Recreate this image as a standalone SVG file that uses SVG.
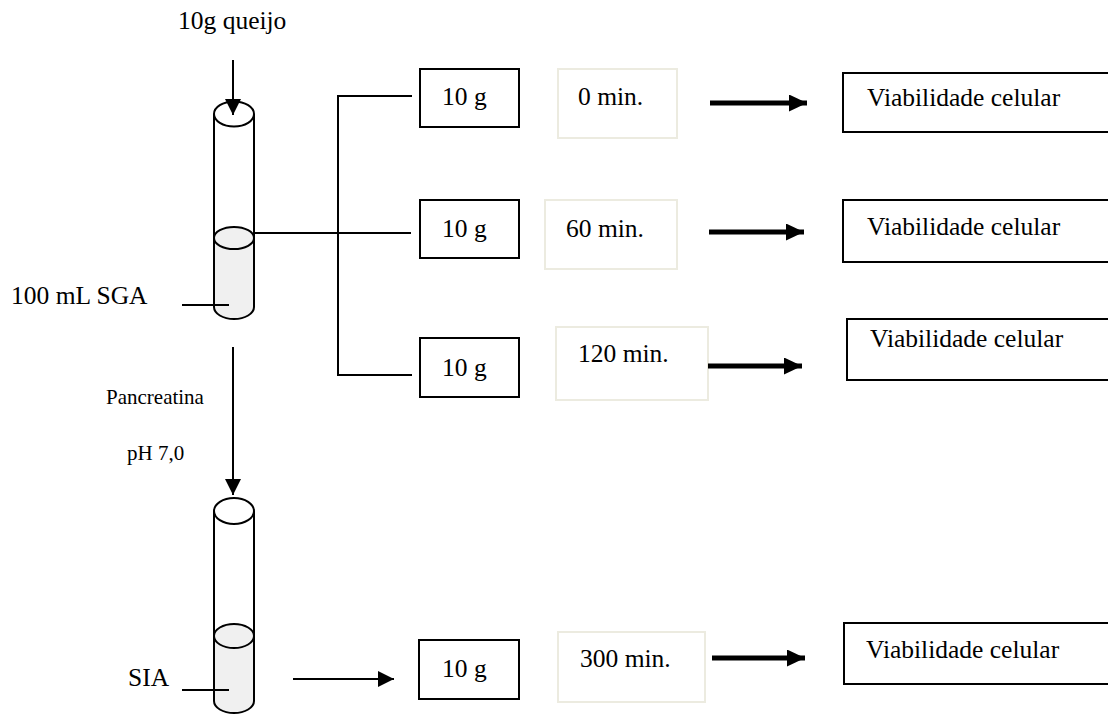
<svg xmlns="http://www.w3.org/2000/svg" width="1108" height="715" viewBox="0 0 1108 715">
  <style>
    text { font-family: "Liberation Serif", "Times New Roman", serif; fill: #000; }
    .lbl { font-size: 25.5px; }
    .small { font-size: 21px; }
    .box { fill: #fff; stroke: #000; stroke-width: 2; }
    .tbox { fill: #fff; stroke: #ecebe0; stroke-width: 2; }
    .ln { fill: none; stroke: #000; stroke-width: 2; }
    .glass { fill: none; stroke: #000; stroke-width: 2; }
    .liquid { fill: #f0f0f0; }
  </style>
  <defs>
    <marker id="headThin" markerWidth="16" markerHeight="16" refX="16" refY="8" orient="auto" markerUnits="userSpaceOnUse">
      <path d="M0,0 L16,8 L0,16 Z" fill="#000"/>
    </marker>
    <marker id="headThick" markerWidth="18" markerHeight="17" refX="18" refY="8.5" orient="auto" markerUnits="userSpaceOnUse">
      <path d="M0,0 L18,8.5 L0,17 Z" fill="#000"/>
    </marker>
  </defs>

  <rect width="1108" height="715" fill="#fff"/>

  <!-- Upper test tube (SGA) -->
  <g id="tube-sga">
    <path class="liquid" d="M214,238 L214,307 A20,12 0 0 0 254,307 L254,238 Z"/>
    <path class="glass" d="M214,114 L214,307 A20,12 0 0 0 254,307 L254,114"/>
    <ellipse cx="234" cy="114" rx="20" ry="12.5" fill="#fff" stroke="#000" stroke-width="2"/>
    <ellipse cx="234" cy="238" rx="20" ry="11" class="liquid" stroke="#000" stroke-width="2"/>
  </g>

  <!-- Lower test tube (SIA) -->
  <g id="tube-sia">
    <path class="liquid" d="M214,636 L214,701 A20,12 0 0 0 254,701 L254,636 Z"/>
    <path class="glass" d="M214,511 L214,701 A20,12 0 0 0 254,701 L254,511"/>
    <ellipse cx="234" cy="511" rx="20" ry="13" fill="#fff" stroke="#000" stroke-width="2"/>
    <ellipse cx="234" cy="636" rx="20" ry="12" class="liquid" stroke="#000" stroke-width="2"/>
  </g>

  <!-- Labels -->
  <g id="label-queijo"><text class="lbl" x="178" y="29">10g queijo</text></g>
  <g id="label-sga"><text class="lbl" x="11" y="304">100 mL SGA</text></g>
  <g id="label-pancreatina"><text class="small" x="106" y="404">Pancreatina</text></g>
  <g id="label-ph"><text class="small" x="127" y="460">pH 7,0</text></g>
  <g id="label-sia"><text class="lbl" x="128" y="686">SIA</text></g>

  <!-- Sample boxes -->
  <g id="sample-1"><rect class="box" x="420" y="69" width="99" height="58"/><text class="lbl" x="442" y="105">10 g</text></g>
  <g id="sample-2"><rect class="box" x="420" y="200" width="99" height="58"/><text class="lbl" x="442" y="237">10 g</text></g>
  <g id="sample-3"><rect class="box" x="420" y="338" width="99" height="59"/><text class="lbl" x="442" y="376">10 g</text></g>
  <g id="sample-4"><rect class="box" x="419" y="640" width="100" height="59"/><text class="lbl" x="442" y="677">10 g</text></g>

  <!-- Time boxes -->
  <g id="time-0"><rect class="tbox" x="558" y="69" width="119" height="69"/><text class="lbl" x="578" y="105">0 min.</text></g>
  <g id="time-60"><rect class="tbox" x="545" y="200" width="132" height="69"/><text class="lbl" x="566" y="237">60 min.</text></g>
  <g id="time-120"><rect class="tbox" x="556" y="327" width="152" height="73"/><text class="lbl" x="578" y="362">120 min.</text></g>
  <g id="time-300"><rect class="tbox" x="558" y="632" width="147" height="70"/><text class="lbl" x="580" y="667">300 min.</text></g>

  <!-- Result boxes -->
  <g id="result-1"><rect class="box" x="843" y="73" width="270" height="59"/><text class="lbl" x="867" y="106">Viabilidade celular</text></g>
  <g id="result-2"><rect class="box" x="843" y="200" width="270" height="62"/><text class="lbl" x="867" y="235">Viabilidade celular</text></g>
  <g id="result-3"><rect class="box" x="847" y="319" width="270" height="61"/><text class="lbl" x="870" y="347">Viabilidade celular</text></g>
  <g id="result-4"><rect class="box" x="844" y="623" width="270" height="61"/><text class="lbl" x="866" y="658">Viabilidade celular</text></g>

  <!-- Connectors -->
  <g id="connectors">
    <line class="ln" x1="233" y1="60" x2="233" y2="115" marker-end="url(#headThin)"/>
    <line class="ln" x1="233" y1="347" x2="233" y2="495" marker-end="url(#headThin)"/>
    <line class="ln" x1="182" y1="305" x2="229" y2="305"/>
    <line class="ln" x1="182" y1="690" x2="229" y2="690"/>
    <line class="ln" x1="255" y1="233" x2="411" y2="233"/>
    <polyline class="ln" points="412,96 338,96 338,375 412,375"/>
    <line class="ln" x1="293" y1="679" x2="394" y2="679" marker-end="url(#headThin)"/>
    <line x1="710" y1="103" x2="807" y2="103" stroke="#000" stroke-width="5" marker-end="url(#headThick)"/>
    <line x1="709" y1="232" x2="804" y2="232" stroke="#000" stroke-width="5" marker-end="url(#headThick)"/>
    <line x1="708" y1="366" x2="802" y2="366" stroke="#000" stroke-width="5" marker-end="url(#headThick)"/>
    <line x1="712" y1="658" x2="805" y2="658" stroke="#000" stroke-width="5" marker-end="url(#headThick)"/>
  </g>
</svg>
